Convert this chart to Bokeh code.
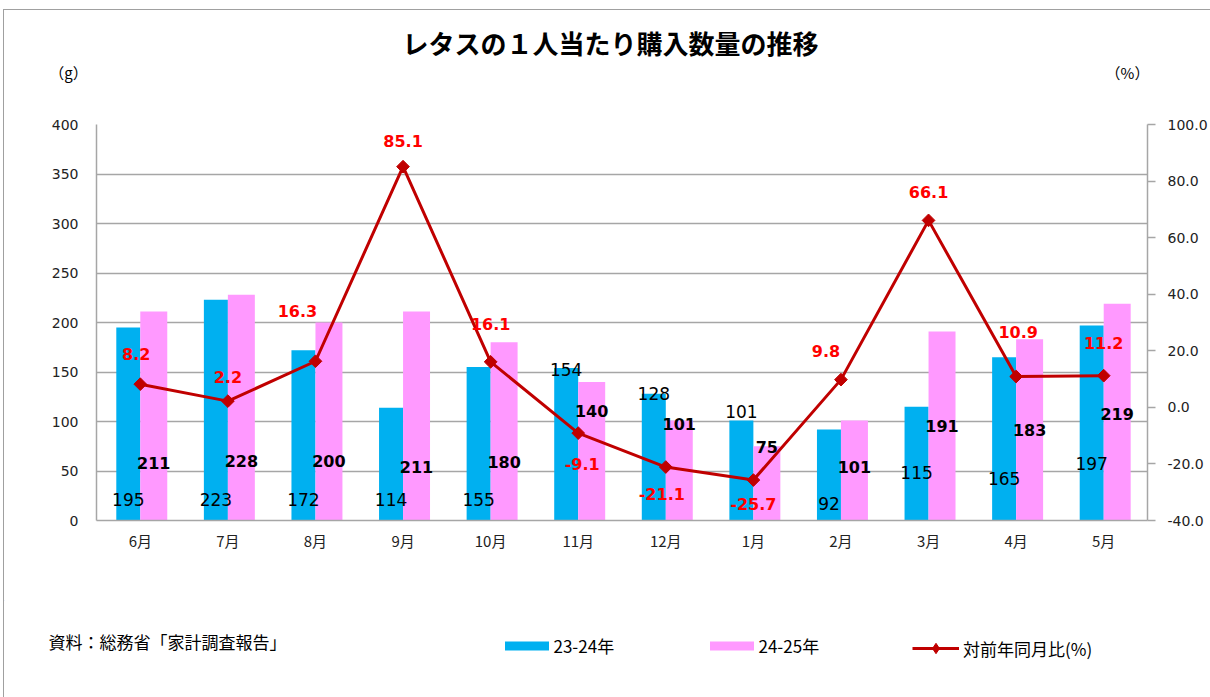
import math
from bokeh.plotting import figure
from bokeh.layouts import column
from bokeh.models import (FactorRange, Range1d, LinearAxis, ColumnDataSource, LabelSet, Label,
                          Legend, LegendItem, FixedTicker, NumeralTickFormatter)
from bokeh.transform import dodge
from bokeh.embed import file_html
from bokeh.resources import INLINE
from bokeh.core.properties import value

# ---------------- data ----------------
months = ["6月", "7月", "8月", "9月", "10月", "11月", "12月", "1月", "2月", "3月", "4月", "5月"]
qty_2324 = [195, 223, 172, 114, 155, 154, 128, 101, 92, 115, 165, 197]
qty_2425 = [211, 228, 200, 211, 180, 140, 101, 75, 101, 191, 183, 219]
yoy_pct = [8.2, 2.2, 16.3, 85.1, 16.1, -9.1, -21.1, -25.7, 9.8, 66.1, 10.9, 11.2]

left_ticks = [0, 50, 100, 150, 200, 250, 300, 350, 400]
right_ticks = [-40, -20, 0, 20, 40, 60, 80, 100]

series_names = ["23-24年", "24-25年", "対前年同月比(%)"]
title_text = "レタスの１人当たり購入数量の推移"
unit_left = "（g）"
unit_right = "（%）"
source_text = "資料：総務省「家計調査報告」"

# manual data-label anchors (as placed in the original chart)
lbl_y_2324 = [21, 21, 21, 21, 21, 152.5, 128.3, 110, 17.2, 48.5, 42.4, 57.6]
lbl_y_2425 = [57.6, 59.6, 60.6, 54.5, 58.6, 111, 97, 74.7, 54.5, 95, 91, 108]
lbl_y_pct = [18.7, 10.9, 34.2, 94.3, 29.6, -20.2, -30.8, -34.3, 20.1, 76.3, 26.5, 22.6]
lbl_dx_pct = [-4, 0, -18, 0, 0, 4, -4, 0, -15, 0, 2, 0]

# ---------------- styles ----------------
CYAN = "#00B0F0"
PINK = "#FF99FF"
LINE = "#C00000"
RED = "#FF0000"
GRID = "#A6A6A6"
FRAME = "#A0A0A0"
JP = "Noto Sans CJK JP"
NUM = "DejaVu Sans"

X0, Y0 = 4, 10          # content origin on the page (after outer frame line)
W = 1210 - X0
Y_MAIN, Y_FOOT, Y_END = 114, 600, 697


def no_align(fig):
    try:
        fig.frame_align = False
    except AttributeError:
        pass
    return fig


def bare(fig):
    fig.axis.visible = False
    fig.grid.visible = False
    fig.outline_line_color = None
    fig.min_border = 0
    return no_align(fig)


# ---------------- header (title + units) ----------------
head = bare(figure(width=W, height=Y_MAIN - Y0, x_range=Range1d(X0, 1210), y_range=Range1d(Y_MAIN, Y0),
                   output_backend="svg", toolbar_location=None, min_border=0,
                   x_axis_location=None, y_axis_location=None))
head.add_layout(Label(x=610, y=42, text=title_text, text_align="center", text_baseline="middle",
                      text_font=JP, text_font_size="26px", text_font_style="bold", text_color="black"))
head.add_layout(Label(x=68, y=72, text=unit_left, text_align="center", text_baseline="middle",
                      text_font=JP, text_font_size="15px", text_color="black"))
head.add_layout(Label(x=1127, y=72, text=unit_right, text_align="center", text_baseline="middle",
                      text_font=JP, text_font_size="15px", text_color="black"))

# ---------------- main chart ----------------
p = no_align(figure(x_range=FactorRange(*months), y_range=Range1d(0, 400),
                    width=W, height=Y_FOOT - Y_MAIN, output_backend="svg", toolbar_location=None,
                    min_border_left=96 - X0, min_border_right=1210 - 1147,
                    min_border_top=124 - Y_MAIN, min_border_bottom=Y_FOOT - 520))
p.extra_y_ranges = {"pct": Range1d(-40, 100)}
p.outline_line_color = None

src = ColumnDataSource(dict(
    month=months, a=qty_2324, b=qty_2425, pct=yoy_pct,
    a_txt=[str(v) for v in qty_2324], b_txt=[str(v) for v in qty_2425],
    pct_txt=[f"{v:.1f}" for v in yoy_pct],
    ya=lbl_y_2324, yb=lbl_y_2425, yp=lbl_y_pct, dxp=lbl_dx_pct,
))

p.vbar(x=dodge("month", -0.137, range=p.x_range), top="a", width=0.274,
       source=src, fill_color=CYAN, line_color=None)
p.vbar(x=dodge("month", 0.154, range=p.x_range), top="b", width=0.308,
       source=src, fill_color=PINK, line_color=None)
p.line(x="month", y="pct", source=src, y_range_name="pct", line_color=LINE, line_width=3)
p.scatter(x="month", y="pct", source=src, y_range_name="pct", marker="square",
          angle=math.pi / 4, size=9, fill_color=LINE, line_color=LINE)

p.yaxis.ticker = FixedTicker(ticks=left_ticks)
p.ygrid.ticker = FixedTicker(ticks=left_ticks)
p.xgrid.grid_line_color = None
p.ygrid.grid_line_color = GRID
p.ygrid.grid_line_width = 1.5

for ax in (p.xaxis[0], p.yaxis[0]):
    ax.axis_line_color = GRID
    ax.axis_line_width = 1.5
    ax.major_tick_out = 0
    ax.major_tick_in = 0
    ax.minor_tick_line_color = None
    ax.major_label_text_color = "#222222"

p.yaxis.major_label_text_font = NUM
p.yaxis.major_label_text_font_size = "14px"
p.yaxis.major_label_standoff = 18
p.xaxis.major_label_text_font = JP
p.xaxis.major_label_text_font_size = "15px"
p.xaxis.major_label_standoff = 9

ax_r = LinearAxis(y_range_name="pct", ticker=FixedTicker(ticks=right_ticks),
                  formatter=NumeralTickFormatter(format="0.0"))
ax_r.axis_line_color = GRID
ax_r.axis_line_width = 1.5
ax_r.major_tick_out = 8
ax_r.major_tick_in = 0
ax_r.major_tick_line_color = GRID
ax_r.major_tick_line_width = 1.5
ax_r.minor_tick_line_color = None
ax_r.major_label_standoff = 12
ax_r.major_label_text_font = NUM
ax_r.major_label_text_font_size = "14px"
ax_r.major_label_text_color = "#222222"
p.add_layout(ax_r, "right")

p.add_layout(LabelSet(x=dodge("month", -0.137, range=p.x_range), y="ya", text="a_txt", source=src,
                      text_align="center", text_baseline="middle", text_font=value(NUM),
                      text_font_size="17px", text_color="black"))
p.add_layout(LabelSet(x=dodge("month", 0.154, range=p.x_range), y="yb", text="b_txt", source=src,
                      text_align="center", text_baseline="middle", text_font=value(NUM),
                      text_font_size="16px", text_font_style="bold", text_color="black"))
p.add_layout(LabelSet(x="month", y="yp", text="pct_txt", source=src, y_range_name="pct",
                      x_offset="dxp", text_align="center", text_baseline="middle",
                      text_font=value(NUM), text_font_size="16px", text_font_style="bold",
                      text_color=RED))

# ---------------- footer (source + legend) ----------------
foot = bare(figure(width=W, height=Y_END - Y_FOOT, x_range=Range1d(X0, 1210),
                   y_range=Range1d(Y_END, Y_FOOT), output_backend="svg", toolbar_location=None,
                   min_border=0, x_axis_location=None, y_axis_location=None))
foot.add_layout(Label(x=48, y=641, text=source_text, text_align="left", text_baseline="middle",
                      text_font=JP, text_font_size="17px", text_color="black"))
# legend proxies: swatch styles only, their single point lies outside the footer's view
lg_a = foot.vbar(x=[0], top=[0], bottom=[0], width=0.5, fill_color=CYAN, line_color=None)
lg_b = foot.vbar(x=[0], top=[0], bottom=[0], width=0.5, fill_color=PINK, line_color=None)
lg_l = foot.line(x=[0], y=[0], line_color=LINE, line_width=3)
lg_m = foot.scatter(x=[0], y=[0], marker="diamond", size=12,
                    fill_color=LINE, line_color=LINE)

legend_common = dict(orientation="horizontal", label_standoff=0, label_height=20,
                     spacing=0, padding=0, margin=0, border_line_color=None,
                     background_fill_alpha=0, label_text_font=JP,
                     label_text_font_size="17px", label_text_color="black")
legend_bars = Legend(items=[LegendItem(label=series_names[0], renderers=[lg_a]),
                            LegendItem(label=series_names[1], renderers=[lg_b])],
                     location=(498.5 - X0, Y_END - 658), glyph_width=55, glyph_height=11,
                     label_width=150, **legend_common)
legend_line = Legend(items=[LegendItem(label=series_names[2], renderers=[lg_l, lg_m])],
                     location=(912 - X0, Y_END - 661), glyph_width=47, glyph_height=26,
                     label_width=100, **legend_common)
legend_line.label_standoff = 4
foot.add_layout(legend_bars, "center")
foot.add_layout(legend_line, "center")

layout = column(head, p, foot, spacing=0,
                styles={"margin-left": "3px", "margin-top": "9px",
                        "border-left": "1px solid " + FRAME, "border-top": "1px solid " + FRAME})

open("out.html", "w").write(file_html(layout, INLINE))
